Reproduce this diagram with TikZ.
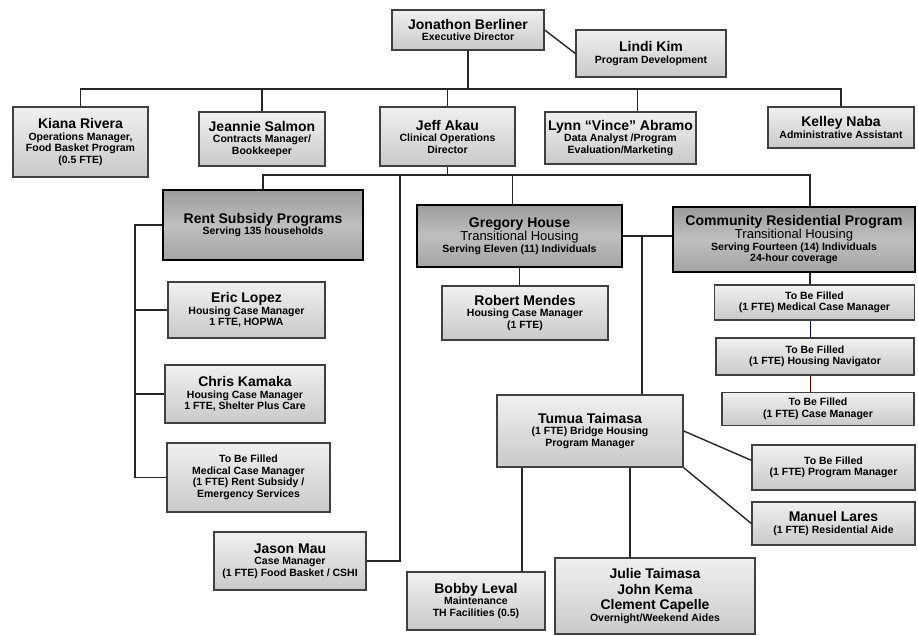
\documentclass[tikz,border=0pt]{standalone}
\usepackage{fontspec}
\setmainfont{Liberation Sans}
\newcommand\pname{\fontsize{14}{15}\selectfont}
\newcommand\ptype{\fontsize{13}{14}\selectfont\mdseries}
\tikzset{
	box/.style={rectangle, draw=black!75, line width=1.4pt, top color=gray!12, bottom color=gray!42, align=center, inner sep=1pt, font=\bfseries\fontsize{10.5}{11.5}\selectfont},
	hub/.style={box, draw=black, line width=2.2pt, top color=gray!78, bottom color=gray!72, middle color=gray!50},
	dims/.style 2 args={minimum width=#1pt, minimum height=#2pt},
	link/.style={draw=black!85, line width=1.4pt},
}
\begin{document}
\begin{tikzpicture}[x=1pt,y=-1pt]
				\fill[white] (0,0) rectangle (918,635);
				\useasboundingbox (0,0) rectangle (918,635);
				\node[box,dims={152}{40}] (berliner) at (468,30) {{\pname Jonathon Berliner}\\Executive Director};
				\node[box,dims={150}{47}] (kim) at (651,53.5) {{\pname Lindi Kim}\\Program Development};
				\node[box,dims={135}{70}] (rivera) at (80.5,142) {{\pname Kiana Rivera}\\Operations Manager,\\Food Basket Program\\(0.5 FTE)};
				\node[box,dims={126}{54}] (salmon) at (262,139) {{\pname Jeannie Salmon}\\Contracts Manager/\\Bookkeeper};
				\node[box,dims={135}{59}] (akau) at (447.5,136.5) {{\pname Jeff Akau}\\Clinical Operations\\Director};
				\node[box,dims={151}{52}] (abramo) at (620.5,138) {{\pname Lynn “Vince” Abramo}\\Data Analyst /Program\\Evaluation/Marketing};
				\node[box,dims={146}{41}] (naba) at (841,127.5) {{\pname Kelley Naba}\\Administrative Assistant};
				\node[hub,dims={200}{70}] (rent) at (263,225) {{\pname Rent Subsidy Programs}\\Serving 135 households};
				\node[box,dims={157}{56}] (eric) at (246.5,310) {{\pname Eric Lopez}\\Housing Case Manager\\1 FTE, HOPWA};
				\node[box,dims={160}{58}] (chris) at (245,394) {{\pname Chris Kamaka}\\Housing Case Manager\\1 FTE, Shelter Plus Care};
				\node[box,dims={163}{69}] (tbfmed) at (248.5,477.5) {To Be Filled\\Medical Case Manager\\(1 FTE) Rent Subsidy /\\Emergency Services};
				\node[box,dims={152}{58}] (mau) at (290,561) {{\pname Jason Mau}\\Case Manager\\(1 FTE) Food Basket / CSHI};
				\node[hub,dims={205}{62}] (gregory) at (519.5,236) {{\pname Gregory House}\\{\ptype Transitional Housing}\\Serving Eleven (11) Individuals};
				\node[hub,dims={242}{65}] (community) at (794,239.5) {{\pname Community Residential Program}\\{\ptype Transitional Housing}\\Serving Fourteen (14) Individuals\\24-hour coverage};
				\node[box,dims={166}{54}] (mendes) at (525,313) {{\pname Robert Mendes}\\Housing Case Manager\\(1 FTE)};
				\node[box,dims={200}{35}] (tbfmcm) at (814.5,302.5) {To Be Filled\\(1 FTE) Medical Case Manager};
				\node[box,dims={198}{37}] (tbfnav) at (815,356.5) {To Be Filled\\(1 FTE) Housing Navigator};
				\node[box,dims={192}{33}] (tbfcm) at (818,409) {To Be Filled\\(1 FTE) Case Manager};
				\node[box,dims={186}{72}] (tumua) at (590,431) {{\pname Tumua Taimasa}\\(1 FTE) Bridge Housing\\Program Manager};
				\node[box,dims={163}{45}] (tbfpm) at (833.5,467.5) {To Be Filled\\(1 FTE) Program Manager};
				\node[box,dims={163}{43}] (lares) at (833.5,523.5) {{\pname Manuel Lares}\\(1 FTE) Residential Aide};
				\node[box,dims={138}{58}] (leval) at (476,601) {{\pname Bobby Leval}\\Maintenance\\TH Facilities (0.5)};
				\node[box,dims={200}{76}] (aides) at (655,596) {{\pname Julie Taimasa}\\[4pt]{\pname John Kema}\\[4pt]{\pname Clement Capelle}\\Overnight/Weekend Aides};
				\coordinate (bar1) at (0,89);
				\coordinate (bar2) at (0,175);
				\coordinate (lspine) at (135,0);
				\coordinate (jspine) at (400,0);
				\coordinate (gspine) at (642,0);
				\coordinate (cspine) at (810,0);
				\coordinate (lvdrop) at (522,0);
				\coordinate (aidrop) at (630,0);
				\draw[link] (berliner.east) -- (kim.west);
				\draw[link] (berliner.south) -- (berliner.south |- bar1);
				\draw[link] (rivera.north) |- (bar1 -| naba.north) -- (naba.north);
				\foreach \b in {salmon,akau}
					\draw[link] (\b.north) -- (\b.north |- bar1);
				\draw[link] ([xshift=17pt]abramo.north) -- ([xshift=17pt]abramo.north |- bar1);
				\draw[link] (akau.south) -- (akau.south |- bar2);
				\draw[link] (rent.north) |- (bar2 -| cspine) -- (cspine |- community.north);
				\draw[link] ([xshift=-7pt]gregory.north) -- ([xshift=-7pt]gregory.north |- bar2);
				\draw[link] (bar2 -| jspine) |- (mau.east);
				\draw[link] (rent.west) -| (lspine |- tbfmed.west) -- (tbfmed.west);
				\foreach \b in {eric,chris}
					\draw[link] (\b.west) -- (lspine |- \b.west);
				\draw[link] (gregory.south) -- (gregory.south |- mendes.north);
				\draw[link] (gregory.east) -- (community.west |- gregory.east);
				\draw[link] (gregory.east -| gspine) -- (gspine |- tumua.north);
				\draw[link] (cspine |- community.south) -- (cspine |- tbfmcm.north);
				\draw[link, draw=blue!45!black, line width=1pt] (cspine |- tbfmcm.south) -- (cspine |- tbfnav.north);
				\draw[link, draw=red!45!black, line width=1pt] (cspine |- tbfnav.south) -- (cspine |- tbfcm.north);
				\draw[link] (tumua.east) -- (tbfpm.175);
				\draw[link] (tumua.south east) -- (lares.west);
				\draw[link] (tumua.south -| lvdrop) -- (leval.north -| lvdrop);
				\draw[link] (tumua.south -| aidrop) -- (aides.north -| aidrop);
			\end{tikzpicture}
\end{document}
